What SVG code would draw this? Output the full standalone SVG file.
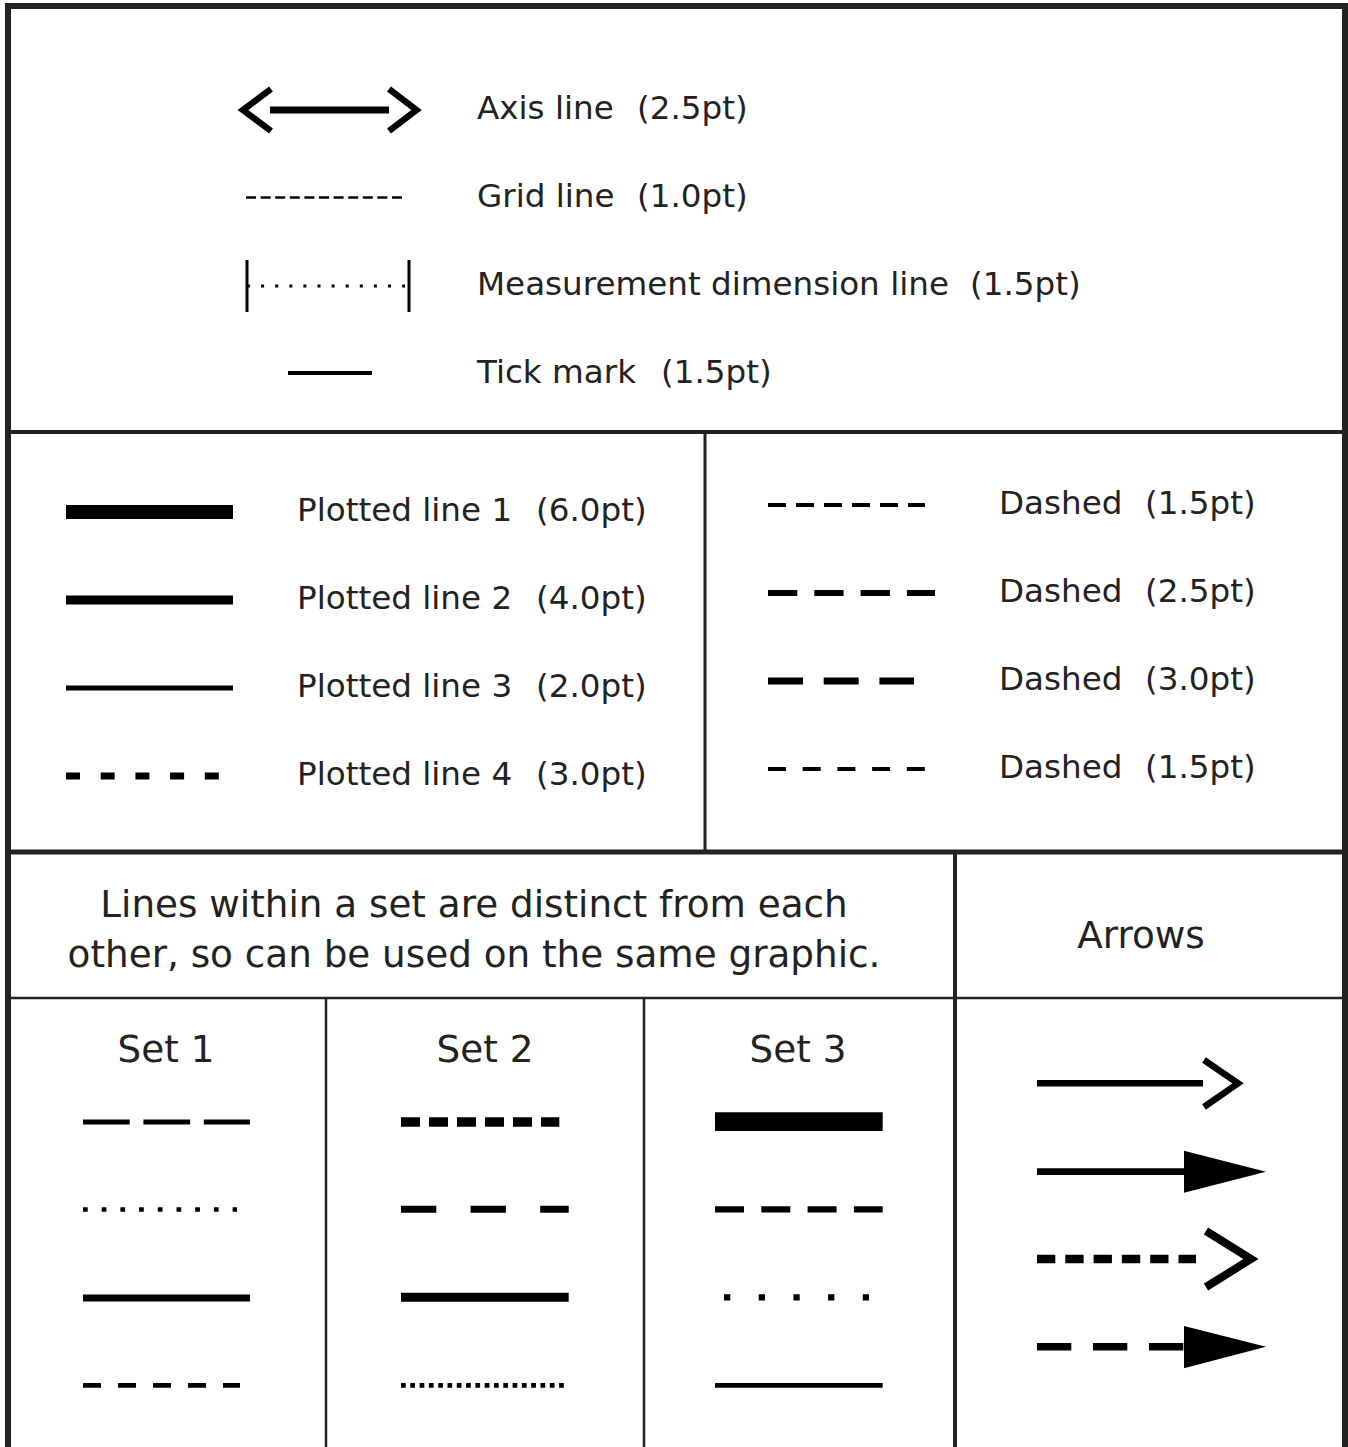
<svg xmlns="http://www.w3.org/2000/svg" width="1348" height="1447" viewBox="0 0 1348 1447">
<style>
text{font-family:"DejaVu Sans","Verdana","Liberation Sans",sans-serif;fill:#222}
.lbl{font-size:32.6px}
.big{font-size:37.3px}
.frame{stroke:#222;fill:none}
.s{stroke:#000;fill:none;stroke-linecap:butt}
.chev{stroke:#000;fill:none;stroke-linejoin:miter;stroke-miterlimit:10}
</style>
<rect width="1348" height="1447" fill="#fff"/>
<g id="frame">
<rect class="frame" x="8" y="6" width="1337" height="1460" stroke-width="6"/>
<line class="frame" x1="8" y1="432" x2="1345" y2="432" stroke-width="4"/>
<line class="frame" x1="705" y1="432" x2="705" y2="852" stroke-width="3"/>
<line class="frame" x1="8" y1="852" x2="1345" y2="852" stroke-width="5"/>
<line class="frame" x1="955" y1="852" x2="955" y2="1447" stroke-width="4"/>
<line class="frame" x1="8" y1="998" x2="1345" y2="998" stroke-width="2.5"/>
<line class="frame" x1="326" y1="998" x2="326" y2="1447" stroke-width="2.5"/>
<line class="frame" x1="644" y1="998" x2="644" y2="1447" stroke-width="2.5"/>
</g>
<g id="axis-line">
<line class="s" x1="270" y1="110" x2="389" y2="110" stroke-width="7"/>
<polyline class="chev" points="271,89 243,110 271,131" stroke-width="6.5"/>
<polyline class="chev" points="389,89 416.5,110 389,131" stroke-width="6.5"/>
<text class="lbl" x="477" y="119">Axis line<tspan x="637">(2.5pt)</tspan></text>
</g>
<g id="grid-line">
<line class="s" x1="246" y1="197.5" x2="406" y2="197.5" stroke-width="2.5" stroke-dasharray="10 4.6"/>
<text class="lbl" x="477" y="207">Grid line<tspan x="637">(1.0pt)</tspan></text>
</g>
<g id="measurement-line">
<line class="s" x1="247" y1="260" x2="247" y2="312" stroke-width="3"/>
<line class="s" x1="409" y1="260" x2="409" y2="312" stroke-width="3"/>
<line class="s" x1="247" y1="286" x2="406" y2="286" stroke-width="3" stroke-dasharray="3 11.1"/>
<text class="lbl" x="477" y="295">Measurement dimension line<tspan x="970">(1.5pt)</tspan></text>
</g>
<g id="tick-mark">
<line class="s" x1="288" y1="373" x2="372" y2="373" stroke-width="4"/>
<text class="lbl" x="477" y="383">Tick mark<tspan x="661">(1.5pt)</tspan></text>
</g>
<g id="plotted-1">
<line class="s" x1="66" y1="512" x2="233" y2="512" stroke-width="14"/>
<text class="lbl" x="297" y="521">Plotted line 1<tspan x="536">(6.0pt)</tspan></text>
</g>
<g id="plotted-2">
<line class="s" x1="66" y1="600" x2="233" y2="600" stroke-width="9"/>
<text class="lbl" x="297" y="609">Plotted line 2<tspan x="536">(4.0pt)</tspan></text>
</g>
<g id="plotted-3">
<line class="s" x1="66" y1="688" x2="233" y2="688" stroke-width="5"/>
<text class="lbl" x="297" y="697">Plotted line 3<tspan x="536">(2.0pt)</tspan></text>
</g>
<g id="plotted-4">
<line class="s" x1="66" y1="776" x2="220" y2="776" stroke-width="7" stroke-dasharray="14 20.7"/>
<text class="lbl" x="297" y="785">Plotted line 4<tspan x="536">(3.0pt)</tspan></text>
</g>
<g id="dashed-1">
<line class="s" x1="768" y1="505" x2="925" y2="505" stroke-width="4" stroke-dasharray="18 10"/>
<text class="lbl" x="999" y="514">Dashed<tspan x="1145">(1.5pt)</tspan></text>
</g>
<g id="dashed-2">
<line class="s" x1="768" y1="593" x2="935" y2="593" stroke-width="6" stroke-dasharray="29.3 17"/>
<text class="lbl" x="999" y="602">Dashed<tspan x="1145">(2.5pt)</tspan></text>
</g>
<g id="dashed-3">
<line class="s" x1="768" y1="681" x2="914" y2="681" stroke-width="7" stroke-dasharray="35 20.7"/>
<text class="lbl" x="999" y="690">Dashed<tspan x="1145">(3.0pt)</tspan></text>
</g>
<g id="dashed-4">
<line class="s" x1="768" y1="769" x2="925" y2="769" stroke-width="4" stroke-dasharray="18 16.7"/>
<text class="lbl" x="999" y="778">Dashed<tspan x="1145">(1.5pt)</tspan></text>
</g>
<g id="sets-note">
<text class="big" x="474" y="917" text-anchor="middle">Lines within a set are distinct from each</text>
<text class="big" x="474" y="967" text-anchor="middle">other, so can be used on the same graphic.</text>
</g>
<g id="arrows-title">
<text class="big" x="1141" y="948" text-anchor="middle">Arrows</text>
</g>
<g id="set-1">
<text class="big" x="166" y="1062" text-anchor="middle">Set 1</text>
<line class="s" x1="83" y1="1122" x2="250" y2="1122" stroke-width="5" stroke-dasharray="46.7 13.7"/>
<line class="s" x1="83" y1="1209.5" x2="237" y2="1209.5" stroke-width="4.7" stroke-dasharray="4.7 14"/>
<line class="s" x1="83" y1="1298" x2="250" y2="1298" stroke-width="7"/>
<line class="s" x1="83" y1="1385.3" x2="240" y2="1385.3" stroke-width="4.7" stroke-dasharray="18 17"/>
</g>
<g id="set-2">
<text class="big" x="485" y="1062" text-anchor="middle">Set 2</text>
<line class="s" x1="401" y1="1122" x2="559.3" y2="1122" stroke-width="9.3" stroke-dasharray="19 9"/>
<line class="s" x1="401" y1="1209.3" x2="568.7" y2="1209.3" stroke-width="7" stroke-dasharray="35.3 34.3"/>
<line class="s" x1="401" y1="1297.3" x2="568.7" y2="1297.3" stroke-width="9"/>
<line class="s" x1="401" y1="1385.3" x2="564" y2="1385.3" stroke-width="4.7" stroke-dasharray="4.7 4.6"/>
</g>
<g id="set-3">
<text class="big" x="798" y="1062" text-anchor="middle">Set 3</text>
<line class="s" x1="715" y1="1121.7" x2="882.7" y2="1121.7" stroke-width="18.7"/>
<line class="s" x1="715" y1="1209.3" x2="882.7" y2="1209.3" stroke-width="6.3" stroke-dasharray="29 17.3"/>
<line class="s" x1="724" y1="1297.3" x2="869" y2="1297.3" stroke-width="6.3" stroke-dasharray="6.3 28.4"/>
<line class="s" x1="715" y1="1385.3" x2="882.7" y2="1385.3" stroke-width="4.7"/>
</g>
<g id="arrow-1">
<line class="s" x1="1037" y1="1083.3" x2="1203" y2="1083.3" stroke-width="6.5"/>
<polyline class="chev" points="1204,1060 1238,1083.3 1204,1107" stroke-width="6.5"/>
</g>
<g id="arrow-2">
<line class="s" x1="1037" y1="1171.7" x2="1190" y2="1171.7" stroke-width="6.7"/>
<polygon points="1184,1150.7 1266,1171.7 1184,1192.7" fill="#000"/>
</g>
<g id="arrow-3">
<line class="s" x1="1037" y1="1259" x2="1196" y2="1259" stroke-width="8.3" stroke-dasharray="18.3 10"/>
<polyline class="chev" points="1206,1231 1251,1259 1206,1287" stroke-width="8" stroke="#222"/>
</g>
<g id="arrow-4">
<line class="s" x1="1037" y1="1346.7" x2="1190" y2="1346.7" stroke-width="7.5" stroke-dasharray="34.3 21.7"/>
<polygon points="1184,1326 1266,1346.7 1184,1368.3" fill="#000"/>
</g>
</svg>
